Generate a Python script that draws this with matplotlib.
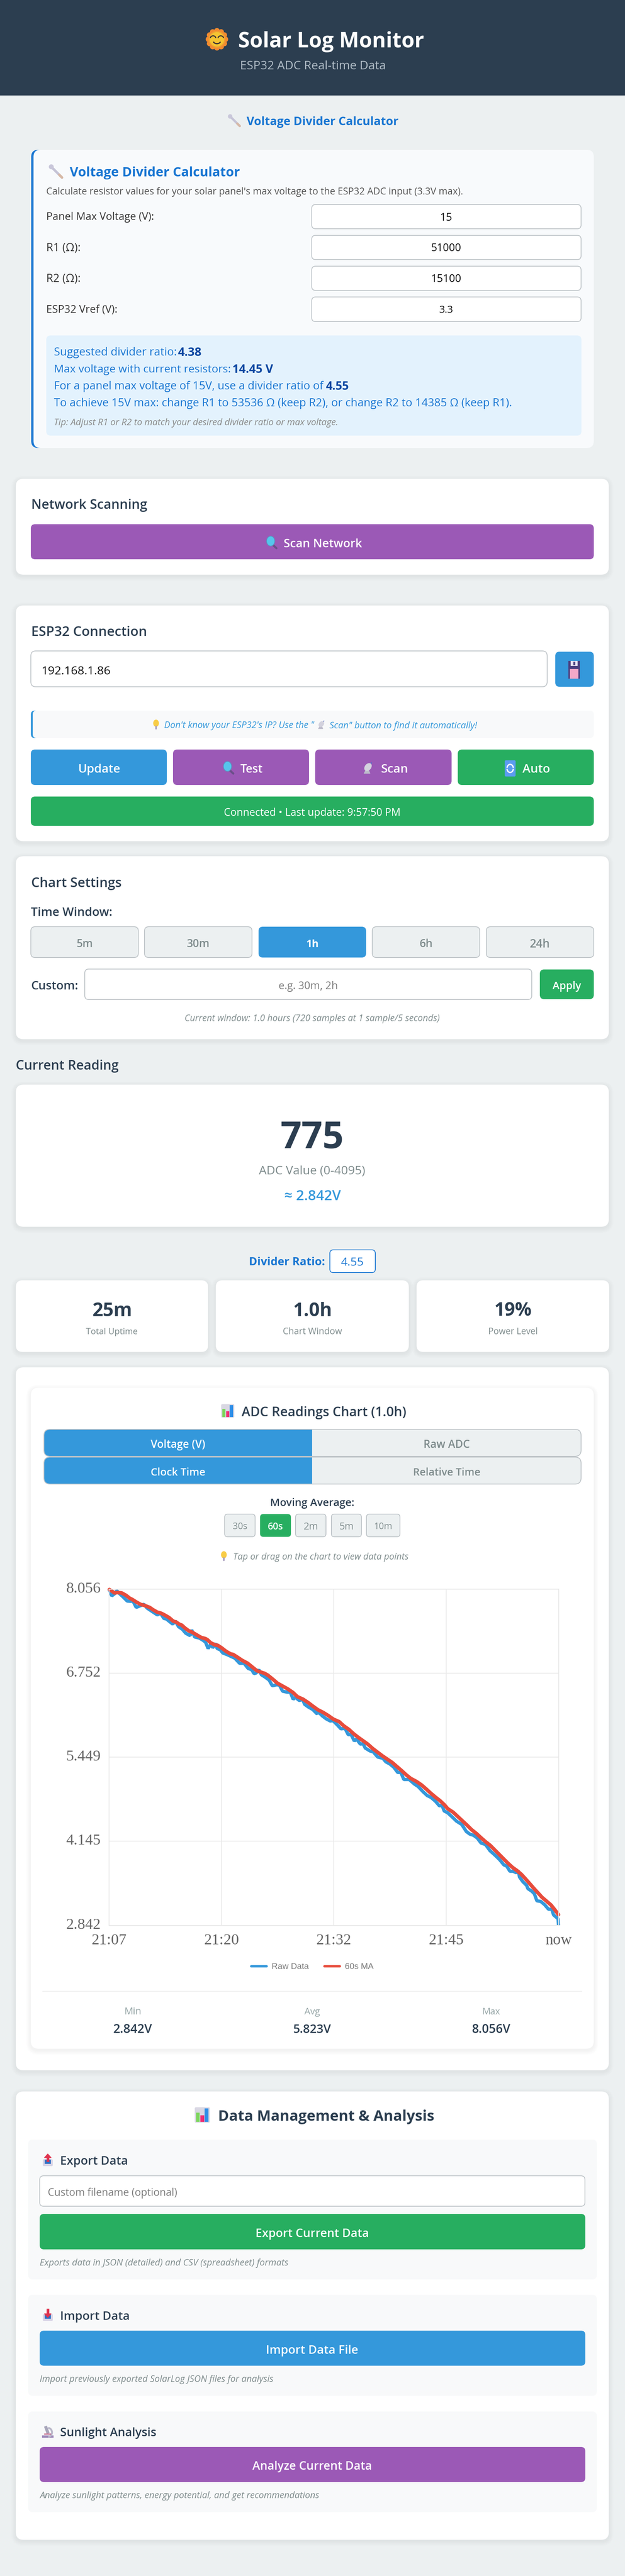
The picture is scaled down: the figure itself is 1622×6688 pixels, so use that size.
"""
Solar Log Monitor page, drawn in page pixels with one real chart axes inside.
"""

import matplotlib
matplotlib.use("Agg")
import matplotlib.pyplot as plt
from matplotlib.font_manager import FontProperties
from matplotlib.lines import Line2D
from matplotlib.patches import Arc, Circle, Ellipse, FancyBboxPatch, Polygon, Rectangle
from matplotlib.textpath import TextPath
from matplotlib.transforms import ScaledTranslation

W, H = 1622, 6688
SANS = ["Open Sans", "DejaVu Sans"]

DARK = "#2c3e50"
BG = "#ecf0f1"
BLUE = "#3498db"
PURPLE = "#9b59b6"
GREEN = "#27ae60"
GREY = "#7f8c8d"
BORDER = "#bdc3c7"
LINK = "#1976d2"

# minutes since the left edge of the window, volts
RAW_MIN = [0.0, 0.30, 0.59, 0.87, 1.16, 1.59, 2.02, 2.37, 2.66, 3.02, 3.44, 3.87, 4.23, 4.66, 5.02, 5.37,
           5.73, 6.09, 6.37, 6.73, 7.09, 7.37, 7.73, 8.16, 8.52, 9.02, 9.19, 9.52, 10.02, 10.44, 10.73, 11.02,
           11.37, 11.52, 11.87, 12.02, 12.37, 12.66, 13.16, 13.52, 13.99, 14.52, 15.02, 15.47, 15.87, 16.13,
           16.37, 16.66, 16.95, 17.30, 17.80, 18.16, 18.66, 18.95, 19.30, 19.80, 20.16, 20.48, 20.73, 21.16,
           21.52, 21.76, 22.16, 22.66, 23.16, 23.23, 23.73, 24.16, 24.62, 24.89, 25.39, 25.79, 26.25, 26.60,
           26.93, 27.28, 27.53, 27.96, 28.25, 28.50, 29.03, 29.39, 29.89, 30.46, 30.79, 31.25, 31.68, 32.11,
           32.46, 32.79, 33.03, 33.39, 33.96, 34.39, 34.93, 35.39, 35.82, 36.32, 36.75, 37.03, 37.28, 37.68,
           38.11, 38.66, 39.23, 39.74, 40.12, 40.55, 40.95, 41.38, 41.88, 42.38, 42.74, 43.09, 43.45, 43.92,
           44.24, 44.59, 44.95, 45.31, 45.52, 45.66, 46.02, 46.45, 46.59, 47.02, 47.31, 47.59, 48.02, 48.45,
           48.88, 49.24, 49.45, 49.95, 50.0]
RAW_V = [8.056, 7.950, 7.980, 8.030, 7.986, 7.930, 7.870, 7.866, 7.870, 7.771, 7.795, 7.820, 7.761, 7.721, 7.687, 7.655,
         7.681, 7.601, 7.592, 7.552, 7.512, 7.562, 7.472, 7.432, 7.372, 7.333, 7.422, 7.313, 7.297, 7.263, 7.233, 7.134,
         7.213, 7.144, 7.213, 7.134, 7.114, 7.064, 7.038, 7.014, 6.984, 6.905, 6.905, 6.825, 6.805, 6.745,
         6.755, 6.805, 6.726, 6.696, 6.646, 6.556, 6.572, 6.566, 6.473, 6.457, 6.457, 6.347, 6.377, 6.327,
         6.347, 6.268, 6.228, 6.188, 6.118, 6.158, 6.088, 6.043, 6.009, 6.018, 5.949, 5.889, 5.895, 5.799,
         5.799, 5.700, 5.730, 5.650, 5.660, 5.590, 5.545, 5.531, 5.451, 5.431, 5.377, 5.342, 5.292, 5.212,
         5.212, 5.103, 5.103, 5.103, 5.033, 4.993, 4.913, 4.854, 4.824, 4.764, 4.694, 4.704, 4.615, 4.585,
         4.530, 4.456, 4.406, 4.297, 4.257, 4.237, 4.197, 4.118, 4.094, 3.998, 3.954, 3.909, 3.859, 3.779,
         3.759, 3.680, 3.680, 3.656, 3.690, 3.590, 3.520, 3.461, 3.411, 3.371, 3.331, 3.222, 3.212, 3.162,
         3.092, 3.092, 3.003, 2.943, 2.842]
MA_MIN = [0.04, 0.30, 0.59, 0.94, 1.40, 1.87, 2.30, 2.59, 3.02, 3.52, 3.87, 4.26, 4.52, 4.87, 5.37, 5.80, 6.16,
          6.66, 7.16, 7.44, 7.80, 8.09, 8.44, 8.87, 9.23, 9.66, 10.09, 10.30, 10.73, 10.95, 11.30, 11.80, 12.09,
          12.52, 13.02, 13.52, 13.80, 14.23, 14.80, 15.42, 15.95, 16.45, 16.95, 17.30, 17.70, 18.23, 18.73, 19.30,
          19.88, 20.45, 20.95, 21.59, 22.16, 22.73, 23.23, 23.80, 24.38, 24.96, 25.60, 26.10, 26.68, 27.18, 27.72,
          28.25, 28.79, 29.32, 29.82, 30.39, 30.96, 31.51, 32.03, 32.53, 33.03, 33.56, 34.18, 34.75, 35.25, 35.79,
          36.32, 36.82, 37.32, 37.68, 38.28, 39.38, 39.84, 40.31, 40.85, 41.35, 41.88, 42.38, 42.88, 43.35, 43.84,
          44.34, 44.85, 45.38, 45.88, 46.34, 46.81, 47.24, 47.74, 48.17, 48.67, 49.17, 49.59, 50.0]
MA_V = [8.049, 8.026, 7.996, 8.002, 7.996, 7.960, 7.914, 7.894, 7.856, 7.817, 7.805, 7.785, 7.771, 7.737, 7.697, 7.681, 7.655,
        7.615, 7.556, 7.546, 7.512, 7.496, 7.452, 7.408, 7.388, 7.353, 7.317, 7.303, 7.287, 7.269, 7.223, 7.189, 7.183,
        7.144, 7.090, 7.050, 7.042, 7.004, 6.951, 6.905, 6.845, 6.789, 6.765, 6.749, 6.716, 6.656, 6.596, 6.552,
        6.507, 6.453, 6.387, 6.347, 6.294, 6.234, 6.184, 6.144, 6.094, 6.038, 5.999, 5.935, 5.879, 5.815, 5.756,
        5.704, 5.650, 5.584, 5.531, 5.471, 5.417, 5.365, 5.302, 5.242, 5.178, 5.119, 5.073, 5.019, 4.959, 4.890,
        4.828, 4.774, 4.708, 4.649, 4.595, 4.452, 4.392, 4.327, 4.267, 4.203, 4.138, 4.084, 4.014, 3.948, 3.879,
        3.809, 3.743, 3.690, 3.630, 3.560, 3.486, 3.417, 3.341, 3.275, 3.216, 3.156, 3.082, 3.007]

Y_TICKS = [2.842, 4.145, 5.449, 6.752, 8.056]
X_TICKS = [0, 12.5, 25, 37.5, 50]
X_LABELS = ["21:07", "21:20", "21:32", "21:45", "now"]
SERIES_NAMES = ["Raw Data", "60s MA"]

TIME_WINDOWS = ["5m", "30m", "1h", "6h", "24h"]
MA_WINDOWS = ["30s", "60s", "2m", "5m", "10m"]
STAT_VALUES = ["25m", "1.0h", "19%"]
STAT_NAMES = ["Total Uptime", "Chart Window", "Power Level"]
SUMMARY_NAMES = ["Min", "Avg", "Max"]
SUMMARY_VALUES = ["2.842V", "5.823V", "8.056V"]

fig = plt.figure(figsize=(W / 100, H / 100), dpi=100, facecolor=BG)
page = fig.add_axes([0, 0, 1, 1])
page.set_xlim(0, W)
page.set_ylim(H, 0)
page.axis("off")


def put(x, y, s, w, color=DARK, ha="left", weight="normal", style="normal", family=SANS):
    """Text with its cap centre at y, sized so it is w pixels wide."""
    prop = FontProperties(family=family, weight=weight, style=style)
    width = TextPath((0, 0), s, size=100, prop=prop).get_extents().width
    size = w / width * 100
    page.text(x, y + 0.36 * size, s, color=color, ha=ha, va="baseline", fontproperties=prop, fontsize=size * 0.72)


def box(x0, y0, x1, y1, r=10, color="white", edge="none", lw=0, z=1):
    p = FancyBboxPatch((x0, y0), x1 - x0, y1 - y0, boxstyle=f"round,pad=0,rounding_size={r}",
                       facecolor=color, edgecolor=edge, linewidth=lw * 0.72, zorder=z)
    page.add_patch(p)


def card(x0, y0, x1, y1, r=20):
    # soft box shadow made of thin layers
    for spread in range(12, 0, -2):
        p = FancyBboxPatch((x0 - spread, y0 - spread + 4), x1 - x0 + 2 * spread, y1 - y0 + 2 * spread,
                           boxstyle=f"round,pad=0,rounding_size={r + spread}",
                           facecolor="black", edgecolor="none", alpha=0.006, zorder=1)
        page.add_patch(p)
    box(x0, y0, x1, y1, r)


def field(x0, y0, x1, y1, r=10):
    box(x0, y0, x1, y1, r, "white", BORDER, 2)


def button(x0, y0, x1, y1, color, r=11):
    box(x0, y0, x1, y1, r, color)


def line(xs, ys, color, lw, cap="round"):
    page.plot(xs, ys, color=color, linewidth=lw * 0.72, solid_capstyle=cap, zorder=5)


def rect(x, y, w, h, color, z=5):
    page.add_patch(Rectangle((x, y), w, h, facecolor=color, edgecolor="none", zorder=z))


def icon_sun(cx, cy):
    for dx, dy in [(0, 22), (11, 19), (19, 11), (22, 0), (19, -11), (11, -19),
                   (0, -22), (-11, -19), (-19, -11), (-22, 0), (-19, 11), (-11, 19)]:
        page.add_patch(Circle((cx + dx, cy + dy), 6.5, color="#f28b30", zorder=5))
    page.add_patch(Circle((cx, cy), 21, color="#f0a030", zorder=5))
    page.add_patch(Circle((cx, cy), 18, color="#f5c431", zorder=5))
    for ex in (-10, 10):
        page.add_patch(Arc((cx + ex, cy - 3), 14, 12, theta1=180, theta2=360, color="#3a3035", lw=2, zorder=6))
    page.add_patch(Arc((cx, cy + 3), 20, 17, theta1=20, theta2=160, color="#3a3035", lw=2.2, zorder=6))


def icon_wrench(cx, cy, s=32):
    d = s * 0.42
    line([cx - d * 0.7, cx + d], [cy - d * 0.7, cy + d], "#c5c3d6", s * 0.17)
    line([cx + d * 0.55, cx + d], [cy + d * 0.55, cy + d], "#d7b9a6", s * 0.17)
    page.add_patch(Circle((cx - d * 0.75, cy - d * 0.75), s * 0.15, color="#c9c7da", zorder=5))


def icon_lens(cx, cy, s=32):
    line([cx + s * 0.12, cx + s * 0.42], [cy + s * 0.2, cy + s * 0.48], "#6b4f8a", s * 0.17)
    page.add_patch(Ellipse((cx - s * 0.05, cy - s * 0.1), s * 0.66, s * 0.8, facecolor="#56c5ec",
                           edgecolor="#5a93c0", linewidth=1.2, zorder=6))


def icon_floppy(cx, cy):
    rect(cx - 15, cy - 23, 30, 46, "#4b3f7f")
    rect(cx - 9, cy - 23, 18, 13, "#e8e4f2")
    rect(cx - 2, cy - 21, 5, 9, "#4b3f7f")
    rect(cx - 11, cy - 2, 22, 25, "#f4a8c8")


def icon_bulb(cx, cy, s=30):
    page.add_patch(Ellipse((cx, cy - s * 0.14), s * 0.56, s * 0.72, color="#f8cc46", zorder=5))
    line([cx, cx], [cy + s * 0.22, cy + s * 0.46], "#a9a0c0", s * 0.17)


def icon_dish(cx, cy, s=30):
    page.add_patch(Polygon([[cx - s * 0.35, cy + s * 0.5], [cx + s * 0.18, cy + s * 0.5], [cx - s * 0.05, cy]],
                           color="#bdbccb", zorder=5))
    page.add_patch(Ellipse((cx, cy - s * 0.05), s * 0.5, s * 0.72, angle=40, color="#d3d2de", zorder=6))
    line([cx + s * 0.1, cx + s * 0.3], [cy - s * 0.14, cy - s * 0.42], "#5570c8", s * 0.1)


def icon_refresh(cx, cy, s=30):
    box(cx - s * 0.47, cy - s * 0.7, cx + s * 0.47, cy + s * 0.7, 3, "#5b9cf0", z=5)
    page.add_patch(Arc((cx, cy), s * 0.55, s * 0.7, theta1=190, theta2=350, color="white", lw=2.4, zorder=6))
    page.add_patch(Arc((cx, cy), s * 0.55, s * 0.7, theta1=10, theta2=170, color="white", lw=2.4, zorder=6))


def icon_chart(cx, cy, w, h):
    box(cx - w / 2, cy - h / 2, cx + w / 2, cy + h / 2, 3, "#d9d7e3", z=5)
    bw = w * 0.25
    rect(cx - w * 0.42, cy - h * 0.15, bw, h * 0.6, "#7bd55a")
    rect(cx - w * 0.13, cy + h * 0.03, bw, h * 0.42, "#ee2f74")
    rect(cx + w * 0.16, cy - h * 0.42, bw, h * 0.87, "#2f8fe8")


def icon_tray(cx, cy, up=True):
    box(cx - 13, cy - 3, cx + 13, cy + 15, 3, "#d8d4e6", z=5)
    rect(cx - 8, cy - 2, 16, 11, "#2d6fc4")
    if up:
        page.add_patch(Polygon([[cx, cy - 17], [cx - 9, cy - 7], [cx + 9, cy - 7]], color="#e0344f", zorder=6))
        rect(cx - 3.5, cy - 8, 7, 12, "#e0344f", 6)
    else:
        page.add_patch(Polygon([[cx, cy + 6], [cx - 9, cy - 4], [cx + 9, cy - 4]], color="#e0344f", zorder=6))
        rect(cx - 3.5, cy - 17, 7, 14, "#e0344f", 6)


def icon_scope(cx, cy):
    rect(cx - 15, cy + 10, 30, 6, "#9c86b8")
    page.add_patch(Arc((cx - 1, cy + 2), 24, 24, theta1=280, theta2=80, color="#b9b7c9", lw=3.5, zorder=5))
    line([cx - 6, cx + 1], [cy - 14, cy + 5], "#a8a6ba", 8, "butt")
    line([cx - 9, cx + 7], [cy + 6, cy + 6], "#c46a8c", 3)


# header
rect(0, 0, W, 248, DARK, 0.5)
icon_sun(563, 102)
put(618, 103, "Solar Log Monitor", 479, "white", weight="bold")
put(623, 169, "ESP32 ADC Real-time Data", 374, "#b0bcc6")

# voltage divider
icon_wrench(608, 313, 34)
put(640, 314, "Voltage Divider Calculator", 394, LINK, weight="bold")
box(81, 389, 200, 1163, 18, LINK)
box(87, 389, 1541, 1163, 18, "#f8fafc")
icon_wrench(145, 445, 38)
put(181, 446, "Voltage Divider Calculator", 442, LINK, weight="bold")
put(120, 496, "Calculate resistor values for your solar panel's max voltage to the ESP32 ADC input (3.3V max).", 1078, "#555555")
for y0, y1, name, nw, val, vw in [(531, 594, "Panel Max Voltage (V):", 275, "15", 28),
                                  (611, 674, "R1 (\u03a9):", 84, "51000", 75),
                                  (691, 754, "R2 (\u03a9):", 84, "15100", 75),
                                  (771, 835, "ESP32 Vref (V):", 180, "3.3", 34)]:
    put(120, (y0 + y1) / 2 - 1, name, nw, "#333333")
    field(809, y0, 1508, y1)
    put(1158, (y0 + y1) / 2, val, vw, "#111111", ha="center")
box(120, 871, 1509, 1131, 12, "#e3f2fd")
put(140, 913, "Suggested divider ratio:", 315, LINK)
put(462, 913, "4.38", 60, "#0d47a1", weight="bold")
put(140, 957, "Max voltage with current resistors:", 454, LINK)
put(603, 957, "14.45 V", 104, "#0d47a1", weight="bold")
put(140, 1001, "For a panel max voltage of 15V, use a divider ratio of", 697, LINK)
put(846, 1001, "4.55", 58, "#0d47a1", weight="bold")
put(140, 1045, "To achieve 15V max: change R1 to 53536 \u03a9 (keep R2), or change R2 to 14385 \u03a9 (keep R1).", 1186, LINK)
put(140, 1096, "Tip: Adjust R1 or R2 to match your desired divider ratio or max voltage.", 732, "#888888", style="italic")

# network scanning
card(41, 1243, 1580, 1492)
put(81, 1309, "Network Scanning", 298, weight=600)
button(80, 1361, 1541, 1452, PURPLE)
icon_lens(704, 1408, 32)
put(736, 1410, "Scan Network", 202, "white", weight=600)

# ESP32 connection
card(41, 1572, 1580, 2184)
put(81, 1638, "ESP32 Connection", 295, weight=600)
field(80, 1690, 1420, 1783, 13)
put(107, 1740, "192.168.1.86", 175, "#111111")
button(1441, 1692, 1541, 1783, BLUE)
icon_floppy(1490, 1739)
box(80, 1845, 200, 1916, 10, BLUE)
box(85, 1845, 1541, 1916, 10, "#f8f9fa")
icon_bulb(405, 1881, 24)
put(426, 1882, "Don't know your ESP32's IP? Use the \"", 389, BLUE, style="italic")
icon_dish(834, 1881, 22)
put(855, 1882, "Scan\" button to find it automatically!", 384, BLUE, style="italic")
button(80, 1946, 433, 2038, BLUE)
button(449, 1946, 802, 2038, PURPLE)
button(818, 1946, 1172, 2038, PURPLE)
button(1188, 1946, 1541, 2038, GREEN)
put(257, 1995, "Update", 106, "white", ha="center", weight=600)
icon_lens(592, 1993, 32)
put(624, 1995, "Test", 57, "white", weight=600)
icon_dish(955, 1993, 30)
put(988, 1995, "Scan", 67, "white", weight=600)
icon_refresh(1324, 1995, 30)
put(1356, 1995, "Auto", 70, "white", weight=600)
button(80, 2068, 1541, 2144, GREEN)
put(810, 2108, "Connected \u2022 Last update: 9:57:50 PM", 454, "white", ha="center")

# chart settings
card(41, 2223, 1580, 2698)
put(81, 2291, "Chart Settings", 231, weight=600)
put(80, 2367, "Time Window:", 209, weight=600)
win_x = [(80, 359), (375, 654), (671, 950), (966, 1245), (1262, 1541)]
win_w = [39, 56, 29, 31, 49]
for (x0, x1), name, tw in zip(win_x, TIME_WINDOWS, win_w):
    active = name == "1h"
    if active:
        button(x0, 2406, x1, 2486, BLUE)
    else:
        box(x0, 2406, x1, 2486, 11, BG, BORDER, 2)
    put((x0 + x1) / 2, 2449, name, tw, "white" if active else GREY, ha="center", weight="bold" if active else 600)
put(80, 2558, "Custom:", 119, weight=600)
field(220, 2516, 1380, 2595)
put(800, 2558, "e.g. 30m, 2h", 150, "#7b7b7b", ha="center")
button(1401, 2517, 1541, 2594, GREEN)
put(1471, 2558, "Apply", 74, "white", ha="center", weight=600)
put(810, 2643, "Current window: 1.0 hours (720 samples at 1 sample/5 seconds)", 659, GREY, ha="center", style="italic")

# current reading
put(41, 2765, "Current Reading", 265, weight=600)
card(41, 2816, 1580, 3185)
put(810, 2946, "775", 158, ha="center", weight="bold")
put(810, 3038, "ADC Value (0-4095)", 275, GREY, ha="center")
put(811, 3103, "\u2248 2.842V", 145, BLUE, ha="center", weight=600)

# divider ratio and stat cards
put(646, 3275, "Divider Ratio:", 193, LINK, weight="bold")
box(856, 3245, 974, 3304, 9, "white", LINK, 2)
put(914, 3275, "4.55", 57, LINK, ha="center")
stat_x = [(41, 540), (560, 1061), (1081, 1581)]
for (x0, x1), val, name, vw, nw in zip(stat_x, STAT_VALUES, STAT_NAMES, [98, 95, 93], [133, 152, 124]):
    card(x0, 3324, x1, 3510, 18)
    put((x0 + x1) / 2, 3399, val, vw, ha="center", weight="bold")
    put((x0 + x1) / 2, 3456, name, nw, GREY, ha="center")

# chart card
card(41, 3550, 1580, 5375)
card(80, 3603, 1541, 5319)
icon_chart(591, 3663, 34, 35)
put(627, 3665, "ADC Readings Chart (1.0h)", 426, weight=600)
for y0, y1, left, lw_, right, rw, ty in [(3711, 3781, "Voltage (V)", 141, "Raw ADC", 117, 3749),
                                         (3783, 3853, "Clock Time", 139, "Relative Time", 171, 3821)]:
    box(114, y0, 1508, y1, 16, BG, BORDER, 2)
    box(115, y0 + 1, 830, y1 - 1, 15, BLUE)
    rect(810, y0 - 1, 30, y1 - y0 + 2, BG)
    page.plot([810, 840], [y0, y0], color=BORDER, linewidth=1.4, zorder=5)
    page.plot([810, 840], [y1, y1], color=BORDER, linewidth=1.4, zorder=5)
    put(462, ty, left, lw_, "white", ha="center", weight=600)
    put(1159, ty, right, rw, GREY, ha="center", weight=600)
put(810, 3900, "Moving Average:", 214, ha="center", weight=600)
ma_x = [(583, 662), (675, 755), (767, 846), (860, 938), (951, 1038)]
ma_w = [36, 38, 35, 34, 44]
for (x0, x1), name, tw in zip(ma_x, MA_WINDOWS, ma_w):
    active = name == "60s"
    if active:
        button(x0, 3931, x1, 3990, GREEN, 8)
    else:
        box(x0, 3931, x1, 3990, 8, BG, BORDER, 2)
    put((x0 + x1) / 2, 3962, name, tw, "white" if active else GREY, ha="center", weight=600 if active else "normal")
icon_bulb(581, 4040, 24)
put(605, 4041, "Tap or drag on the chart to view data points", 452, GREY, style="italic")

# the chart itself
PLOT_L, PLOT_R, PLOT_T, PLOT_B = 283, 1449.5, 4125.6, 4998.6
ax = fig.add_axes([PLOT_L / W, 1 - PLOT_B / H, (PLOT_R - PLOT_L) / W, (PLOT_B - PLOT_T) / H], facecolor="none", zorder=3)
ax.set_xlim(X_TICKS[0], X_TICKS[-1])
ax.set_ylim(Y_TICKS[0], Y_TICKS[-1])
ax.set_xticks(X_TICKS, X_LABELS, fontfamily="Liberation Serif", fontsize=28.8, color="#666666")
ax.set_yticks(Y_TICKS, [f"{v:.3f}" for v in Y_TICKS], fontfamily="Liberation Serif", fontsize=28.8, color="#666666")
ax.tick_params(length=0)
ax.tick_params(axis="x", pad=15.5)
ax.tick_params(axis="y", pad=15.5)
ax.grid(True, color="#e9e9e9", linewidth=1.5)
ax.set_axisbelow(True)
for spine in ax.spines.values():
    spine.set_color("#e9e9e9")
    spine.set_linewidth(1.5)
up = ScaledTranslation(0, 5 / 100, fig.dpi_scale_trans)
for lab in ax.get_yticklabels():
    lab.set_transform(lab.get_transform() + up)
raw_line, = ax.plot(RAW_MIN, RAW_V, color=BLUE, linewidth=6.2, solid_joinstyle="bevel", solid_capstyle="butt", clip_on=False)
ma_line, = ax.plot(MA_MIN, MA_V, color="#e74c3c", linewidth=6.8, solid_joinstyle="round", solid_capstyle="round", clip_on=False)
handles = [Line2D([], [], color=BLUE, linewidth=4.4, solid_capstyle="round"),
           Line2D([], [], color="#e74c3c", linewidth=4.4, solid_capstyle="round")]
ax.legend(handles, SERIES_NAMES, loc="center", bbox_to_anchor=(810.5 / W, 1 - 5107 / H), bbox_transform=fig.transFigure,
          ncol=2, frameon=False, borderpad=0, borderaxespad=0, handlelength=1.82, handletextpad=0.59, columnspacing=1.86,
          labelcolor="#7a7a7a", prop=FontProperties(family="Liberation Sans", size=15.84))

page.plot([111, 1510], [5170, 5170], color="#f0f0f0", linewidth=1.4, zorder=2)
sum_x = [344.5, 810, 1275]
for cx, name, val, nw, vw in zip(sum_x, SUMMARY_NAMES, SUMMARY_VALUES, [40, 40, 44], [100, 97, 99]):
    put(cx, 5221, name, nw, "#95a5a6", ha="center")
    put(cx, 5267, val, vw, ha="center", weight=600)

# data management
card(41, 5430, 1580, 6594)
icon_chart(525, 5491, 39, 40)
put(566, 5492, "Data Management & Analysis", 557, weight="bold")
for y0, y1 in [(5555, 5918), (5958, 6220), (6261, 6522)]:
    box(73, y0, 1549, y1, 12, "#f8f9fa")
icon_tray(124, 5609, True)
put(156, 5609, "Export Data", 171, weight=600)
field(103, 5649, 1518, 5728)
put(124, 5691, "Custom filename (optional)", 334, "#7b7b7b")
button(103, 5748, 1519, 5840, GREEN)
put(810, 5797, "Export Current Data", 289, "white", ha="center", weight=600)
put(103, 5873, "Exports data in JSON (detailed) and CSV (spreadsheet) formats", 645, GREY, style="italic")
icon_tray(124, 6011, False)
put(156, 6012, "Import Data", 176, weight=600)
button(103, 6051, 1519, 6142, BLUE)
put(810, 6100, "Import Data File", 235, "white", ha="center", weight=600)
put(103, 6176, "Import previously exported SolarLog JSON files for analysis", 606, GREY, style="italic")
icon_scope(124, 6313)
put(156, 6314, "Sunlight Analysis", 247, weight=600)
button(103, 6353, 1519, 6444, PURPLE)
put(810, 6401, "Analyze Current Data", 307, "white", ha="center", weight=600)
put(103, 6478, "Analyze sunlight patterns, energy potential, and get recommendations", 725, GREY, style="italic")

fig.savefig("out.png", dpi=100, facecolor=BG)
